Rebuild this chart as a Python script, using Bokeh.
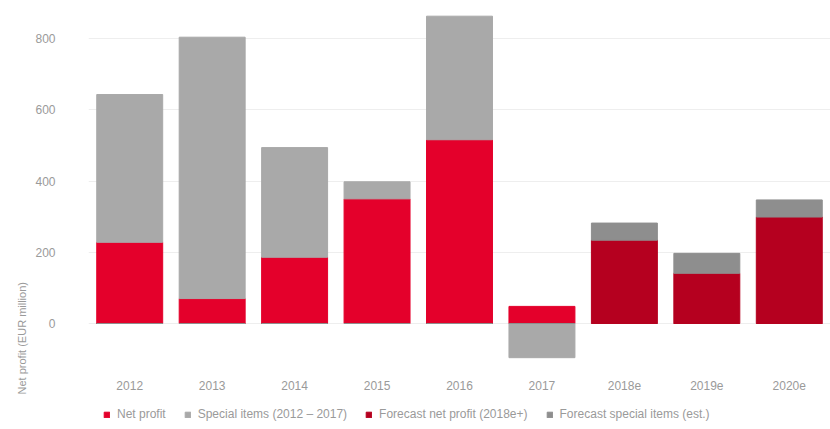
from bokeh.plotting import figure
from bokeh.layouts import column
from bokeh.models import (FactorRange, Range1d, FixedTicker, Legend, LegendItem, Title,
                          ColumnDataSource)
from bokeh.embed import file_html
from bokeh.resources import INLINE

years = ["2012", "2013", "2014", "2015", "2016", "2017", "2018e", "2019e", "2020e"]
net_profit = [228, 70, 186, 350, 516, 48, 0, 0, 0]
special_items = [415, 734, 308, 48, 347, -96, 0, 0, 0]
forecast_profit = [0, 0, 0, 0, 0, 0, 234, 141, 299]
forecast_special = [0, 0, 0, 0, 0, 0, 48, 56, 48]
y_ticks = [0, 200, 400, 600, 800]
legend_labels = ["Net profit", "Special items (2012 – 2017)",
                 "Forecast net profit (2018e+)", "Forecast special items (est.)"]
axis_title = "Net profit (EUR million)"

C_RED = "#E4002B"
C_LGRAY = "#A9A9A9"
C_DRED = "#B5001F"
C_DGRAY = "#8E8E8E"
colors = [C_RED, C_LGRAY, C_DRED, C_DGRAY]
FONT = "Liberation Sans"
TXT = "#9a9a9a"

# stacking
s1_bottom = [0] * len(years)
s1_top = net_profit
s2_bottom = [t if v >= 0 else 0 for t, v in zip(s1_top, special_items)]
s2_top = [b + v for b, v in zip(s2_bottom, special_items)]
s3_bottom = [0] * len(years)
s3_top = forecast_profit
s4_bottom = s3_top
s4_top = [b + v for b, v in zip(s4_bottom, forecast_special)]

src = ColumnDataSource(dict(x=years, b1=s1_bottom, t1=s1_top, b2=s2_bottom, t2=s2_top,
                            b3=s3_bottom, t3=s3_top, b4=s4_bottom, t4=s4_top))

xr = FactorRange(*years)
p = figure(width=830, height=396, x_range=xr, y_range=Range1d(-132, 893),
           output_backend="svg", toolbar_location=None,
           min_border_left=88, min_border_right=0, min_border_top=5, min_border_bottom=26)
p.outline_line_color = None
p.background_fill_color = "white"
p.border_fill_color = "white"

W = 0.8
p.vbar(x="x", bottom="b1", top="t1", width=W, color=C_RED, source=src)
p.vbar(x="x", bottom="b2", top="t2", width=W, color=C_LGRAY, source=src)
p.vbar(x="x", bottom="b3", top="t3", width=W, color=C_DRED, source=src)
p.vbar(x="x", bottom="b4", top="t4", width=W, color=C_DGRAY, source=src)

p.xgrid.grid_line_color = None
p.ygrid.grid_line_color = "#eeeeee"
p.yaxis.ticker = FixedTicker(ticks=y_ticks)

for ax in (p.xaxis[0], p.yaxis[0]):
    ax.axis_line_color = None
    ax.major_tick_line_color = None
    ax.minor_tick_line_color = None
    ax.major_label_text_font = FONT
    ax.major_label_text_font_size = "12px"
    ax.major_label_text_color = TXT
p.yaxis.major_label_standoff = 27
p.xaxis.major_label_standoff = 4

ttl = Title(text=axis_title, align="left", offset=-24, text_font=FONT, text_font_size="11px",
            text_color=TXT, text_font_style="normal")
p.add_layout(ttl, "left")

# legend strip (same series, drawn outside its visible y-window so only the legend shows)
lg = figure(width=830, height=33, output_backend="svg", toolbar_location=None,
            x_range=xr, y_range=Range1d(5000, 6000),
            x_axis_location=None, y_axis_location=None,
            min_border_left=88, min_border_right=0, min_border_top=0, min_border_bottom=0)
lg.grid.visible = False
lg.outline_line_color = None
lg.border_fill_color = "white"
lg.background_fill_color = "white"
items = []
for lab, col, (b, t) in zip(legend_labels, colors,
                            [("b1", "t1"), ("b2", "t2"), ("b3", "t3"), ("b4", "t4")]):
    r = lg.vbar(x="x", bottom=b, top=t, width=W, color=col, source=src)
    items.append(LegendItem(label=lab, renderers=[r]))
legend = Legend(items=items, orientation="horizontal", location=(15, 8),
                border_line_color=None, background_fill_alpha=0,
                label_text_font=FONT, label_text_font_size="12px", label_text_color=TXT,
                glyph_width=7, glyph_height=7, spacing=18, padding=2, margin=0,
                label_standoff=7)
lg.add_layout(legend)

open("out.html", "w").write(file_html(column(p, lg, spacing=0), INLINE))
